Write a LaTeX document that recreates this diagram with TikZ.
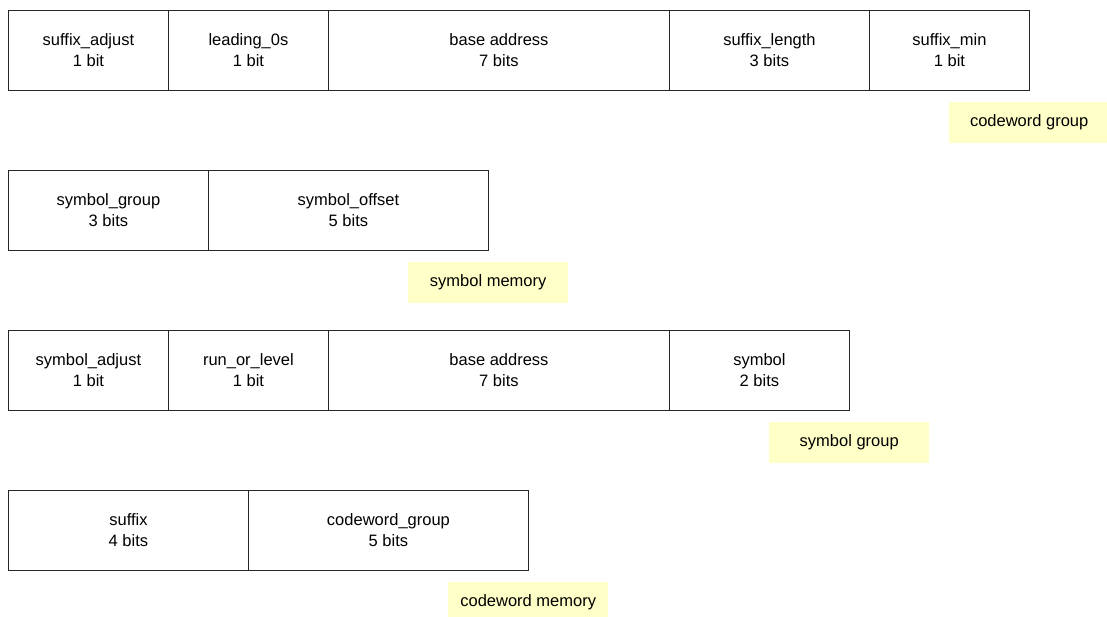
\documentclass[tikz,border=0pt]{standalone}
\usepackage{fontspec}
\setmainfont{Liberation Sans}
\definecolor{notefill}{HTML}{FFFFC8}
\begin{document}
\begin{tikzpicture}[x=1pt,y=-1pt,
  field/.style={draw=black!85, line width=0.9pt, rectangle, anchor=north west,
    minimum height=80pt, inner sep=0pt, align=center,
    font=\fontsize{16.5}{21}\selectfont},
  tag/.style={fill=notefill, rectangle, anchor=north west,
    minimum width=160pt, minimum height=41pt, inner sep=0pt,
    font=\fontsize{16.5}{21}\selectfont}]
\useasboundingbox (0,0) rectangle (1107,617);

% codeword group word
\node[field, minimum width=160pt] (cgA) at (8,10)   {suffix\_adjust\\1 bit};
\node[field, minimum width=160pt] (cgB) at (168,10) {leading\_0s\\1 bit};
\node[field, minimum width=341pt] (cgC) at (328,10) {base address\\7 bits};
\node[field, minimum width=200pt] (cgD) at (669,10) {suffix\_length\\3 bits};
\node[field, minimum width=160pt] (cgE) at (869,10) {suffix\_min\\1 bit};
\node[tag] (cgT) at (949,102) {codeword group};

% symbol memory word
\node[field, minimum width=200pt] (smA) at (8,170)   {symbol\_group\\3 bits};
\node[field, minimum width=280pt] (smB) at (208,170) {symbol\_offset\\5 bits};
\node[tag] (smT) at (408,262) {symbol memory};

% symbol group word
\node[field, minimum width=160pt] (sgA) at (8,330)   {symbol\_adjust\\1 bit};
\node[field, minimum width=160pt] (sgB) at (168,330) {run\_or\_level\\1 bit};
\node[field, minimum width=341pt] (sgC) at (328,330) {base address\\7 bits};
\node[field, minimum width=180pt] (sgD) at (669,330) {symbol\\2 bits};
\node[tag] (sgT) at (769,422) {symbol group};

% codeword memory word
\node[field, minimum width=240pt] (cmA) at (8,490)   {suffix\\4 bits};
\node[field, minimum width=280pt] (cmB) at (248,490) {codeword\_group\\5 bits};
\node[tag] (cmT) at (448,582) {codeword memory};
\end{tikzpicture}
\end{document}
